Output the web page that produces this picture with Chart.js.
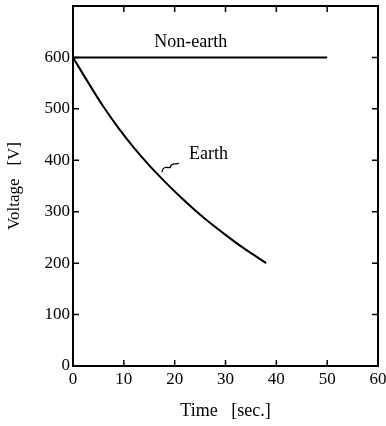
<!DOCTYPE html>
<html>
<head>
<meta charset="utf-8">
<script src="https://cdn.jsdelivr.net/npm/chart.js@4/dist/chart.umd.min.js"></script>
<style>
html,body{margin:0;padding:0;background:#fff;}
#wrap{width:386px;height:426px;position:relative;}
</style>
</head>
<body>
<div id="wrap"><canvas id="c" width="386" height="426"></canvas></div>
<script>
// Data
const earthTime = [0, 3, 6, 9, 12, 15, 18, 21, 24, 27, 30, 33, 36, 38];
const earthVolt = [600, 551, 504, 462, 424, 390, 359, 330, 303, 278, 255, 233, 213, 200];
const nonEarthTime = [0, 50];
const nonEarthVolt = [600, 600];
const xTicks = [0, 10, 20, 30, 40, 50, 60];
const yTicks = [0, 100, 200, 300, 400, 500, 600, 700];
const yTickLabels = ['0', '100', '200', '300', '400', '500', '600', ''];
const seriesLabels = ['Non-earth', 'Earth'];

const SERIF = '"Liberation Serif", "DejaVu Serif", serif';

const frame = {
  id: 'frame',
  afterDraw(chart) {
    const ctx = chart.ctx, a = chart.chartArea;
    const xs = chart.scales.x, ys = chart.scales.y;
    ctx.save();
    ctx.strokeStyle = '#000';
    ctx.lineWidth = 2;
    ctx.strokeRect(a.left, a.top, a.right - a.left, a.bottom - a.top);
    ctx.lineWidth = 1.5;
    const L = 6;
    ctx.beginPath();
    xTicks.forEach(v => {
      const px = xs.getPixelForValue(v);
      ctx.moveTo(px, a.bottom); ctx.lineTo(px, a.bottom - L);
      ctx.moveTo(px, a.top); ctx.lineTo(px, a.top + L);
    });
    yTicks.forEach(v => {
      const py = ys.getPixelForValue(v);
      ctx.moveTo(a.left, py); ctx.lineTo(a.left + L, py);
      ctx.moveTo(a.right, py); ctx.lineTo(a.right - L, py);
    });
    ctx.stroke();
    // annotations
    ctx.fillStyle = '#000';
    ctx.font = '18px ' + SERIF;
    ctx.textAlign = 'left';
    ctx.textBaseline = 'middle';
    ctx.fillText(seriesLabels[0], xs.getPixelForValue(16.0), ys.getPixelForValue(630));
    ctx.fillText(seriesLabels[1], xs.getPixelForValue(22.8), ys.getPixelForValue(411));
    // squiggle leader
    const x0 = xs.getPixelForValue(17.5), y0 = ys.getPixelForValue(377);
    const x1 = xs.getPixelForValue(20.8), y1 = ys.getPixelForValue(395);
    ctx.lineWidth = 1.3;
    ctx.beginPath();
    ctx.moveTo(x0, y0);
    ctx.bezierCurveTo(x0 + 1, y0 - 8, (x0 + x1) / 2 - 1, y0 - 3, (x0 + x1) / 2, y0 - 5);
    ctx.bezierCurveTo((x0 + x1) / 2 + 2, y1 - 2, x1 - 2, y1 + 3, x1, y1);
    ctx.stroke();
    ctx.restore();
  }
};

new Chart(document.getElementById('c'), {
  type: 'scatter',
  data: {
    datasets: [
      {
        label: seriesLabels[0],
        data: nonEarthTime.map((t, i) => ({x: t, y: nonEarthVolt[i]})),
        showLine: true, borderColor: '#000', borderWidth: 2, pointRadius: 0, tension: 0
      },
      {
        label: seriesLabels[1],
        data: earthTime.map((t, i) => ({x: t, y: earthVolt[i]})),
        showLine: true, borderColor: '#000', borderWidth: 2, pointRadius: 0,
        cubicInterpolationMode: 'monotone'
      }
    ]
  },
  options: {
    responsive: false,
    animation: false,
    layout: {padding: {top: 6, right: 8, left: 0, bottom: 0}},
    plugins: {legend: {display: false}, tooltip: {enabled: false}},
    scales: {
      x: {
        type: 'linear', min: 0, max: 60,
        afterBuildTicks(s) { s.ticks = xTicks.map(v => ({value: v})); },
        afterFit(s) { s.height = 60; s.paddingLeft = 0; s.paddingRight = 0; },
        grid: {display: false, drawTicks: false},
        border: {display: false},
        ticks: {color: '#000', font: {family: SERIF, size: 17}, padding: 3, maxRotation: 0, autoSkip: false},
        title: {display: true, text: 'Time   [sec.]', color: '#000', font: {family: SERIF, size: 18}, padding: {top: 8}}
      },
      y: {
        type: 'linear', min: 0, max: 700,
        afterBuildTicks(s) { s.ticks = yTicks.map(v => ({value: v})); },
        afterFit(s) { s.width = 73; s.paddingTop = 0; s.paddingBottom = 0; },
        grid: {display: false, drawTicks: false},
        border: {display: false},
        ticks: {color: '#000', font: {family: SERIF, size: 17}, padding: 3, autoSkip: false,
          callback: (v) => yTickLabels[yTicks.indexOf(v)] ?? ''},
        title: {display: true, text: 'Voltage   [V]', color: '#000', font: {family: SERIF, size: 17}, padding: {top: 4, bottom: 0}}
      }
    }
  },
  plugins: [frame]
});
</script>
</body>
</html>
